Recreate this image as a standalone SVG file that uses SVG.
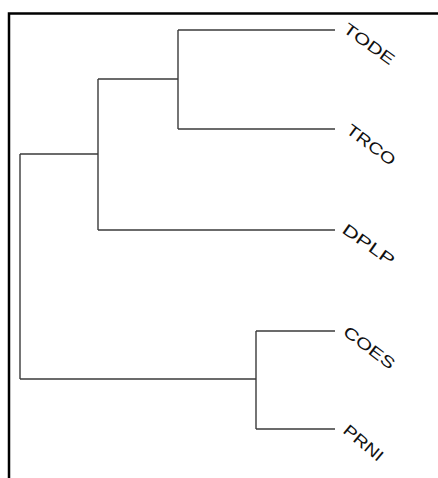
<svg xmlns="http://www.w3.org/2000/svg" width="438" height="478" viewBox="0 0 438 478">
<style>
.frame{stroke:#000;stroke-width:2.5;fill:none}
.br{stroke:#3a3a3a;stroke-width:1.4;fill:none}
.lbl{font-family:"Liberation Sans",Arial,sans-serif;font-size:16px;fill:#111}
</style>
<rect width="438" height="478" fill="#fff"/>
<path class="frame" d="M9,478 V13.5 H438"/>
<g id="connectors">
<path class="br" d="M20,154 V379"/>
<path class="br" d="M20,154 H98"/>
<path class="br" d="M20,379 H256"/>
<path class="br" d="M98,79 V230"/>
<path class="br" d="M98,79 H178"/>
<path class="br" d="M98,230 H335"/>
<path class="br" d="M178,30 V129"/>
<path class="br" d="M178,30 H335"/>
<path class="br" d="M178,129 H335"/>
<path class="br" d="M256,331 V429"/>
<path class="br" d="M256,331 H335"/>
<path class="br" d="M256,429 H335"/>
</g>
<g id="TODE"><text class="lbl" transform="translate(342,31) rotate(36)" textLength="59" lengthAdjust="spacingAndGlyphs">TODE</text></g>
<g id="TRCO"><text class="lbl" transform="translate(345,132) rotate(37)" textLength="57" lengthAdjust="spacingAndGlyphs">TRCO</text></g>
<g id="DPLP"><text class="lbl" transform="translate(341,232) rotate(35)" textLength="60" lengthAdjust="spacingAndGlyphs">DPLP</text></g>
<g id="COES"><text class="lbl" transform="translate(342,334) rotate(37)" textLength="60" lengthAdjust="spacingAndGlyphs">COES</text></g>
<g id="PRNI"><text class="lbl" transform="translate(342,432) rotate(40)" textLength="47" lengthAdjust="spacingAndGlyphs">PRNI</text></g>
</svg>
